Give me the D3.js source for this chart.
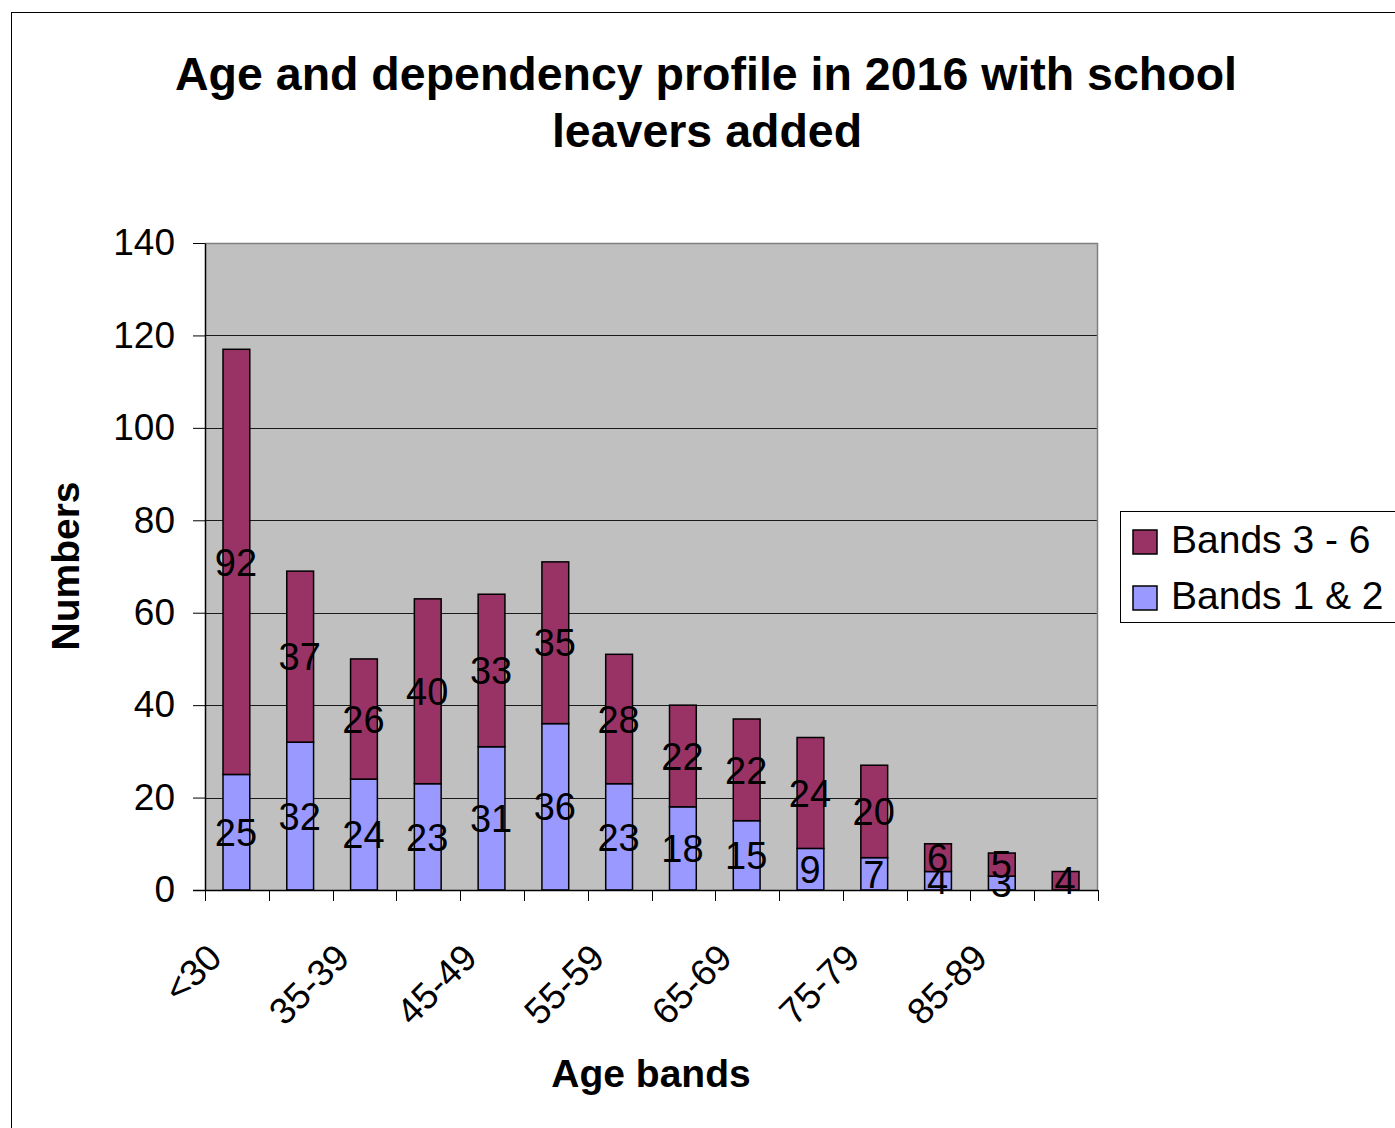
<!DOCTYPE html>
<html>
<head>
<meta charset="utf-8">
<script src="https://cdn.jsdelivr.net/npm/d3@7"></script>
<style>
  html, body { margin: 0; padding: 0; background: #ffffff; }
  svg { display: block; }
  text { font-family: "Liberation Sans", Arial, Helvetica, sans-serif; fill: #000; }
</style>
</head>
<body>
<svg id="chart" width="1395" height="1128"></svg>
<script>
// Age bands along the x axis
const categories = ["<30", "30-34", "35-39", "40-44", "45-49", "50-54", "55-59",
                    "60-64", "65-69", "70-74", "75-79", "80-84", "85-89", "90-94"];
// Staff counts per age band
const bands12 = [25, 32, 24, 23, 31, 36, 23, 18, 15, 9, 7, 4, 3, 0];
const bands36 = [92, 37, 26, 40, 33, 35, 28, 22, 22, 24, 20, 6, 5, 4];
const seriesNames = ["Bands 1 & 2", "Bands 3 - 6"];
const yTickValues = [0, 20, 40, 60, 80, 100, 120, 140];
// Only every other age band is labelled on the axis
const xTickLabels = ["<30", "35-39", "45-49", "55-59", "65-69", "75-79", "85-89"];

const colors = { "Bands 1 & 2": "#9999FF", "Bands 3 - 6": "#993366" };

const svg = d3.select("#chart");
const W = 1395, H = 1128;
const plot = { left: 205, right: 1098, top: 243, bottom: 890 };

// outer chart frame
svg.append("rect")
  .attr("x", 11.5).attr("y", 12.5)
  .attr("width", W + 10).attr("height", H + 10)
  .attr("fill", "#fff").attr("stroke", "#000").attr("stroke-width", 1);

const x = d3.scaleBand()
  .domain(categories)
  .range([plot.left, plot.right])
  .paddingInner(0.58)
  .paddingOuter(0.29);

const y = d3.scaleLinear()
  .domain([0, 140])
  .range([plot.bottom, plot.top]);

// plot background
svg.append("rect")
  .attr("x", plot.left).attr("y", plot.top)
  .attr("width", plot.right - plot.left).attr("height", plot.bottom - plot.top)
  .attr("fill", "#C0C0C0");

// horizontal gridlines
svg.append("g")
  .selectAll("line")
  .data(yTickValues.filter(v => v > 0 && v < 140))
  .join("line")
  .attr("x1", plot.left).attr("x2", plot.right)
  .attr("y1", d => Math.round(y(d)) + 0.5).attr("y2", d => Math.round(y(d)) + 0.5)
  .attr("stroke", "#1a1a1a").attr("stroke-width", 1);

// top and right edges of the plot area
svg.append("path")
  .attr("d", `M${plot.left},${plot.top + 0.5}H${plot.right - 0.5}V${plot.bottom}`)
  .attr("fill", "none").attr("stroke", "#808080").attr("stroke-width", 1.5);

// stacked data
const stackData = categories.map((c, i) => ({ cat: c, "Bands 1 & 2": bands12[i], "Bands 3 - 6": bands36[i] }));
const stacked = d3.stack().keys(seriesNames)(stackData);

const layers = svg.append("g")
  .selectAll("g")
  .data(stacked)
  .join("g")
  .attr("fill", d => colors[d.key]);

layers.selectAll("rect")
  .data(d => d.filter(p => p[1] - p[0] > 0))
  .join("rect")
  .attr("x", p => x(p.data.cat) - 0.5)
  .attr("width", x.bandwidth())
  .attr("y", p => y(p[1]))
  .attr("height", p => y(p[0]) - y(p[1]))
  .attr("stroke", "#000")
  .attr("stroke-width", 1.5);

// y axis
const yAxis = svg.append("g")
  .attr("transform", `translate(${plot.left},0)`)
  .call(d3.axisLeft(y).tickValues(yTickValues).tickSize(12).tickPadding(18).tickSizeOuter(0));
yAxis.select(".domain").attr("stroke", "#000").attr("stroke-width", 1.5);
yAxis.selectAll(".tick line").attr("stroke", "#000");
yAxis.selectAll(".tick text")
  .attr("font-family", "Liberation Sans, Arial, sans-serif")
  .attr("font-size", 37)
  .attr("fill", "#000");

// x axis: baseline and tick marks at the category boundaries
const boundaries = d3.range(categories.length + 1).map(i => plot.left + i * x.step());
svg.append("line")
  .attr("x1", plot.left - 12).attr("x2", plot.right)
  .attr("y1", y(0) + 0.5).attr("y2", y(0) + 0.5)
  .attr("stroke", "#000").attr("stroke-width", 1.5);
svg.append("g")
  .selectAll("line")
  .data(boundaries)
  .join("line")
  .attr("x1", d => Math.round(d) + 0.5).attr("x2", d => Math.round(d) + 0.5)
  .attr("y1", y(0)).attr("y2", y(0) + 11)
  .attr("stroke", "#000").attr("stroke-width", 1);

// rotated category labels
svg.append("g")
  .selectAll("text")
  .data(xTickLabels)
  .join("text")
  .attr("transform", d => `translate(${x(d) + x.bandwidth() / 2 - 13},${y(0) + 70}) rotate(-45)`)
  .attr("text-anchor", "end")
  .attr("font-size", 37)
  .text(d => d);

// value labels centred on each segment
layers.selectAll("text")
  .data(d => d.filter(p => p[1] - p[0] > 0))
  .join("text")
  .attr("x", p => x(p.data.cat) + x.bandwidth() / 2 - 1)
  .attr("y", p => y((p[0] + p[1]) / 2))
  .attr("dy", "0.36em")
  .attr("text-anchor", "middle")
  .attr("font-size", 38)
  .attr("fill", "#000")
  .text(p => p[1] - p[0]);

// titles
const title = svg.append("text")
  .attr("text-anchor", "middle")
  .attr("font-size", 46.5)
  .attr("font-weight", "bold");
title.append("tspan").attr("x", 706).attr("y", 90).text("Age and dependency profile in 2016 with school");
title.append("tspan").attr("x", 707).attr("y", 147).text("leavers added");

svg.append("text")
  .attr("transform", `translate(79,566) rotate(-90)`)
  .attr("text-anchor", "middle")
  .attr("font-size", 39)
  .attr("font-weight", "bold")
  .text("Numbers");

svg.append("text")
  .attr("x", 651).attr("y", 1087)
  .attr("text-anchor", "middle")
  .attr("font-size", 39)
  .attr("font-weight", "bold")
  .text("Age bands");

// legend
const legend = svg.append("g");
legend.append("rect")
  .attr("x", 1120.5).attr("y", 511.5)
  .attr("width", 300).attr("height", 111)
  .attr("fill", "#fff").attr("stroke", "#000").attr("stroke-width", 1);
const legendItems = legend.selectAll("g.item")
  .data(seriesNames.slice().reverse())
  .join("g")
  .attr("class", "item")
  .attr("transform", (d, i) => `translate(1133,${530 + i * 56})`);
legendItems.append("rect")
  .attr("width", 24).attr("height", 24)
  .attr("fill", d => colors[d])
  .attr("stroke", "#000").attr("stroke-width", 1.5);
legendItems.append("text")
  .attr("x", 38).attr("y", 23)
  .attr("font-size", 39)
  .text(d => d);
</script>
</body>
</html>
